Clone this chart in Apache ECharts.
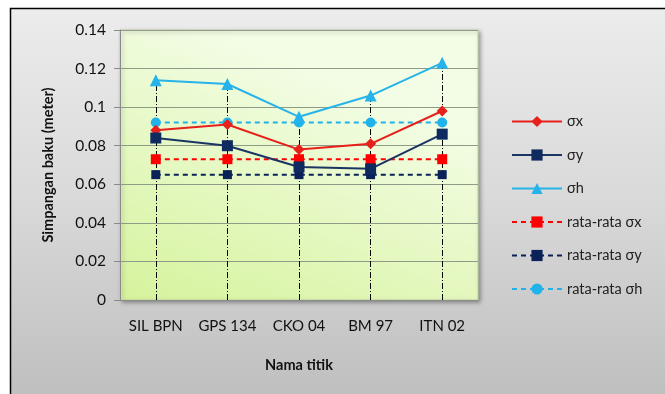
<!DOCTYPE html>
<html><head><meta charset="utf-8">
<script src="https://cdn.jsdelivr.net/npm/echarts@6/dist/echarts.min.js"></script>
<style>html,body{margin:0;padding:0;background:#fff}#c{width:665px;height:394px}</style>
</head><body><div id="c"></div>
<script>
const categories = ['SIL BPN', 'GPS 134', 'CKO 04', 'BM 97', 'ITN 02'];
const sigmaX = [0.088, 0.091, 0.078, 0.081, 0.098];
const sigmaY = [0.084, 0.080, 0.069, 0.068, 0.086];
const sigmaH = [0.114, 0.112, 0.095, 0.106, 0.123];
const avgX = [0.073, 0.073, 0.073, 0.073, 0.073];
const avgY = [0.065, 0.065, 0.065, 0.065, 0.065];
const avgH = [0.092, 0.092, 0.092, 0.092, 0.092];

const FONT = 'Lato';
const chart = echarts.init(document.getElementById('c'));
const dropLines = sigmaH.map((v, i) => [{xAxis: i, yAxis: 0}, {xAxis: i, yAxis: v}]);

chart.setOption({
  animation: false,
  textStyle: {fontFamily: FONT},
  graphic: [{
    type: 'rect', z: -10, silent: true,
    shape: {x: 10.5, y: 8.5, width: 700, height: 420},
    style: {
      fill: new echarts.graphic.LinearGradient(0, 0, 0, 0.92, [
        {offset: 0, color: '#ececec'}, {offset: 0.5, color: '#d9d9d9'}, {offset: 1, color: '#bfbfbf'}
      ]),
      stroke: '#000', lineWidth: 1.5
    }
  }],
  grid: {
    left: 120, top: 30, width: 358, height: 270, show: true,
    borderWidth: 1, borderColor: '#c4d4a4',
    backgroundColor: new echarts.graphic.LinearGradient(0.3, 0, 0, 1, [
      {offset: 0, color: '#f3fde6'}, {offset: 1, color: '#d6f39c'}
    ]),
    shadowColor: 'rgba(0,0,0,0.35)', shadowBlur: 4, shadowOffsetX: 2, shadowOffsetY: 2
  },
  legend: {
    orient: 'vertical', left: 506, top: 109, itemGap: 18.5, itemWidth: 50, itemHeight: 14,
    textStyle: {fontFamily: FONT, fontSize: 14.5, color: '#222'},
    data: ['σx', 'σy', 'σh', 'rata-rata σx', 'rata-rata σy', 'rata-rata σh']
  },
  xAxis: {
    type: 'category', data: categories, boundaryGap: true,
    axisLine: {lineStyle: {color: '#8a8a8a'}}, axisTick: {show: false},
    axisLabel: {fontFamily: FONT, fontSize: 15, color: '#111', margin: 19, interval: 0},
    name: 'Nama titik', nameLocation: 'middle', nameGap: 58,
    nameTextStyle: {fontFamily: FONT, fontSize: 14.5, fontWeight: 'bold', color: '#111'}
  },
  yAxis: {
    type: 'value', min: 0, max: 0.14, interval: 0.02,
    axisLine: {show: true, lineStyle: {color: '#8a8a8a'}},
    axisTick: {show: true, length: 6, lineStyle: {color: '#8a8a8a'}},
    splitLine: {lineStyle: {color: '#8f9a88', width: 1}},
    axisLabel: {fontFamily: FONT, fontSize: 15.5, color: '#111', margin: 14},
    name: 'Simpangan baku (meter)', nameLocation: 'middle', nameGap: 64, nameRotate: 90,
    nameTextStyle: {fontFamily: FONT, fontSize: 14.5, fontWeight: 'bold', color: '#111'}
  },
  series: [
    {name: 'σx', type: 'line', data: sigmaX, symbol: 'diamond', symbolSize: 11,
     color: '#e8201c', lineStyle: {width: 2, color: '#e8201c'}, z: 5},
    {name: 'σy', type: 'line', data: sigmaY, symbol: 'rect', symbolSize: 11,
     color: '#0f2a5e', lineStyle: {width: 2, color: '#1a3563'}, z: 5},
    {name: 'σh', type: 'line', data: sigmaH, symbol: 'triangle', symbolSize: 12,
     color: '#26b3ea', lineStyle: {width: 2, color: '#26b3ea'}, z: 5,
     markLine: {silent: true, symbol: 'none', label: {show: false}, z: 1,
       lineStyle: {color: '#000', width: 1, type: [6, 2, 1, 2]}, data: dropLines}},
    {name: 'rata-rata σx', type: 'line', data: avgX, symbol: 'rect', symbolSize: 10,
     color: '#ff0000', lineStyle: {width: 2, type: [5, 4], color: '#ff0000'}, z: 4},
    {name: 'rata-rata σy', type: 'line', data: avgY, symbol: 'rect', symbolSize: 9,
     color: '#0a2258', lineStyle: {width: 2, type: [5, 4], color: '#0a2258'}, z: 4},
    {name: 'rata-rata σh', type: 'line', data: avgH, symbol: 'circle', symbolSize: 10,
     color: '#22b2ea', lineStyle: {width: 2, type: [5, 4], color: '#22b2ea'}, z: 4}
  ]
});
</script></body></html>
